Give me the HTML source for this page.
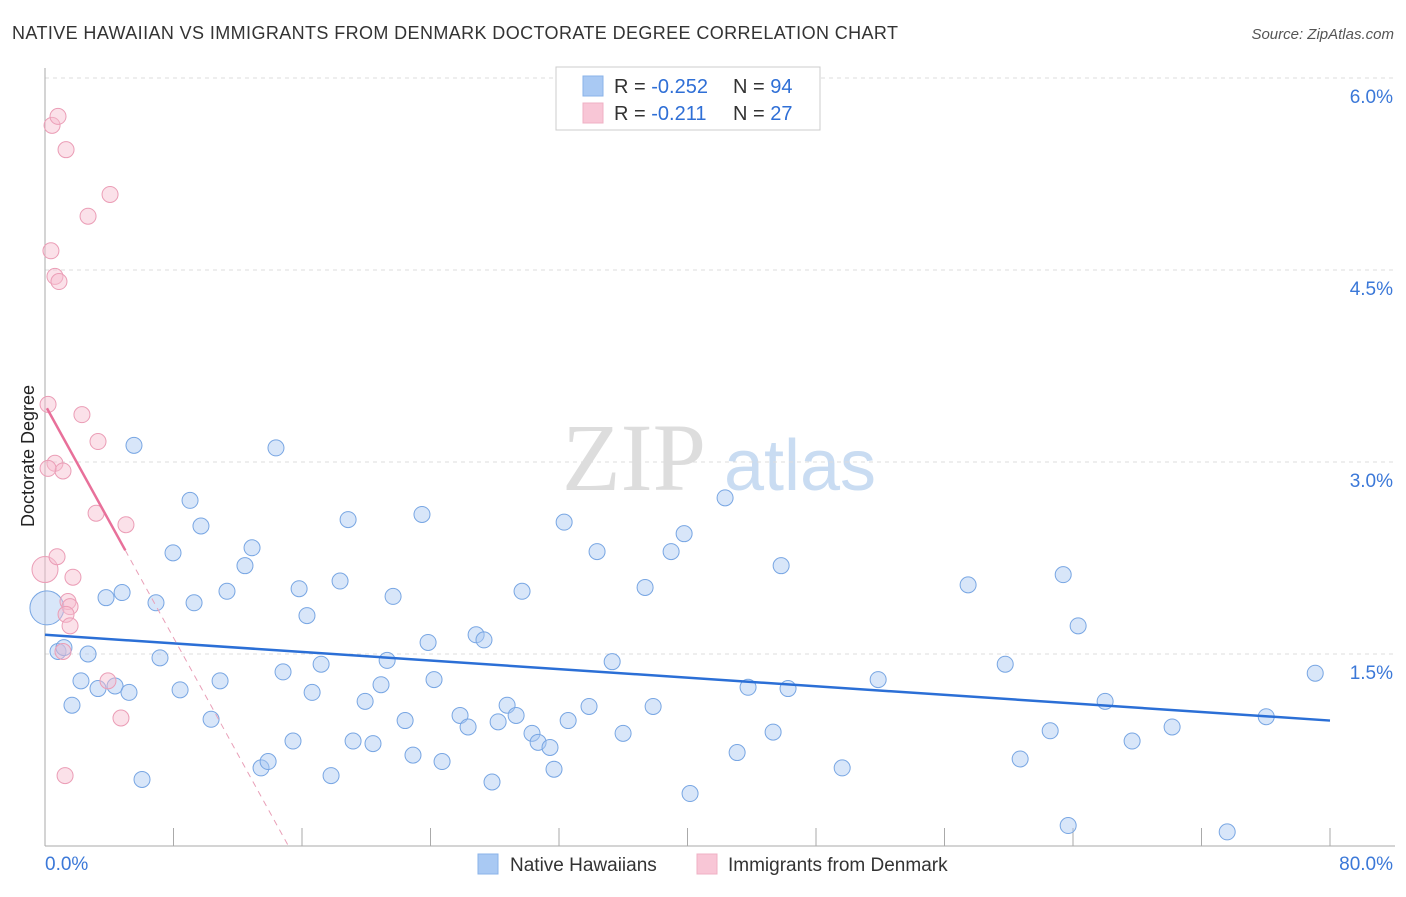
<!DOCTYPE html>
<html><head><meta charset="utf-8"><style>
body{margin:0;background:#fff;font-family:"Liberation Sans",sans-serif;}
</style></head><body>
<svg width="1406" height="892" xmlns="http://www.w3.org/2000/svg" id="svg">
<text x="12" y="39" font-size="18" fill="#333" textLength="886" lengthAdjust="spacing">NATIVE HAWAIIAN VS IMMIGRANTS FROM DENMARK DOCTORATE DEGREE CORRELATION CHART</text>
<text x="1394" y="39" font-size="15" fill="#555" text-anchor="end" font-style="italic">Source: ZipAtlas.com</text>
<text x="34" y="456" font-size="18" fill="#222" text-anchor="middle" transform="rotate(-90 34 456)">Doctorate Degree</text>
<g><text x="634" y="490" font-size="96" fill="#ddd" font-family="Liberation Serif,serif" text-anchor="middle">ZIP</text><text x="800" y="490" font-size="72" fill="#c9dcf2" text-anchor="middle">atlas</text></g>
<g id="grid"></g><g id="axes"></g><g id="marks"></g>
<g>
<rect x="556" y="67" width="264" height="63" fill="#fff" stroke="#ccc"/>
<rect x="583" y="76" width="20" height="20" fill="#a9c9f3" stroke="#8ab3e8"/>
<rect x="583" y="103" width="20" height="20" fill="#f8c6d6" stroke="#efb0c4"/>
<text x="614" y="93" font-size="20" fill="#333">R = <tspan fill="#2f6fd6">-0.252</tspan></text>
<text x="733" y="93" font-size="20" fill="#333">N = <tspan fill="#2f6fd6">94</tspan></text>
<text x="614" y="120" font-size="20" fill="#333">R =  <tspan fill="#2f6fd6"> -0.211</tspan></text>
<text x="733" y="120" font-size="20" fill="#333">N = <tspan fill="#2f6fd6">27</tspan></text>
</g>
<g>
<rect x="478" y="854" width="20" height="20" fill="#a9c9f3" stroke="#8ab3e8"/>
<text x="510" y="871" font-size="19" fill="#333">Native Hawaiians</text>
<rect x="697" y="854" width="20" height="20" fill="#f8c6d6" stroke="#efb0c4"/>
<text x="728" y="871" font-size="19" fill="#333">Immigrants from Denmark</text>
</g>
</svg>
<script>
const yTicks=[1.5,3.0,4.5,6.0];
const xTickLabels=["0.0%","80.0%"];
const blueX=[0.12,0.81,1.18,2.68,1.68,2.24,3.30,3.80,4.36,4.80,5.23,5.54,6.04,6.91,7.16,7.97,8.41,9.03,9.28,9.71,10.34,10.90,11.33,12.45,12.89,13.45,13.89,14.38,14.82,15.44,15.82,16.31,16.63,17.19,17.81,18.37,18.87,19.18,19.93,20.42,20.92,21.30,21.67,22.42,22.91,23.47,23.85,24.22,24.72,25.84,26.34,26.84,27.33,27.83,28.21,28.77,29.33,29.70,30.32,30.70,31.44,31.69,32.32,32.57,33.87,34.37,35.31,35.99,37.36,37.86,38.98,39.79,40.16,42.34,43.09,43.77,45.33,45.83,46.26,49.63,51.87,57.47,59.78,60.71,62.58,63.39,63.70,64.32,66.00,67.68,70.17,73.60,76.03,79.08];
const blueY=[1.86,1.52,1.55,1.50,1.10,1.29,1.23,1.94,1.25,1.98,1.20,3.13,0.52,1.90,1.47,2.29,1.22,2.70,1.90,2.50,0.99,1.29,1.99,2.19,2.33,0.61,0.66,3.11,1.36,0.82,2.01,1.80,1.20,1.42,0.55,2.07,2.55,0.82,1.13,0.80,1.26,1.45,1.95,0.98,0.71,2.59,1.59,1.30,0.66,1.02,0.93,1.65,1.61,0.50,0.97,1.10,1.02,1.99,0.88,0.81,0.77,0.60,2.53,0.98,1.09,2.30,1.44,0.88,2.02,1.09,2.30,2.44,0.41,2.72,0.73,1.24,0.89,2.19,1.23,0.61,1.30,2.04,1.42,0.68,0.90,2.12,0.16,1.72,1.13,0.82,0.93,0.11,1.01,1.35];
const pinkX=[0,0.19,0.44,0.81,1.31,4.05,2.68,0.37,0.62,0.87,2.30,3.30,0.62,1.12,0.19,3.18,5.04,0.75,1.74,1.43,1.56,1.31,1.56,1.12,3.92,4.73,1.25];
const pinkY=[2.16,3.45,5.63,5.70,5.44,5.09,4.92,4.65,4.45,4.41,3.37,3.16,2.99,2.93,2.95,2.60,2.51,2.26,2.10,1.91,1.87,1.81,1.72,1.52,1.29,1.00,0.55];
const blueTrend=[1.65,0.98]; // y at x=0 and x=80
const pinkTrend=[3.42,2.31]; // y at x=0.12 and x=5.0
const X=v=>45+v*1285/80, Y=v=>846-v*128;
const NS="http://www.w3.org/2000/svg";
function mk(tag,attrs,parent){const e=document.createElementNS(NS,tag);for(const k in attrs)e.setAttribute(k,attrs[k]);document.getElementById(parent).appendChild(e);return e;}
yTicks.forEach(t=>{
 const g=mk('line',{x1:45,x2:1395,y1:Y(t),y2:Y(t),stroke:'#ddd','stroke-dasharray':'4,4'},'grid');
 
 
 const l=mk('text',{x:1393,y:Y(t)+25,'font-size':19,fill:'#3b78d8','text-anchor':'end'},'grid');
 l.textContent=t.toFixed(1)+'%';
 
 
});
const ax=mk('line',{x1:45,x2:45,y1:68,y2:846,stroke:'#aaa'},'axes');


const bx=mk('line',{x1:45,x2:1395,y1:846,y2:846,stroke:'#aaa'},'axes');


for(let i=1;i<=10;i++){const t=mk('line',{x1:X(i*8),x2:X(i*8),y1:828,y2:846,stroke:'#aaa'},'axes');
 
 }
[[0,'start',45],[1,'end',1393]].forEach(([i,a,x])=>{const t=mk('text',{x:x,y:870,'font-size':19,fill:'#3b78d8','text-anchor':a},'axes');t.textContent=xTickLabels[i];
 
 });
blueX.forEach((x,i)=>{const c=mk('circle',{cx:X(x),cy:Y(blueY[i]),r:i==0?17:8,fill:'rgba(168,200,242,0.45)',stroke:'#78a6e3','stroke-width':1},'marks');
 
 });
pinkX.forEach((x,i)=>{const c=mk('circle',{cx:X(x),cy:Y(pinkY[i]),r:i==0?13:8,fill:'rgba(246,188,206,0.45)',stroke:'#eb9db6','stroke-width':1},'marks');
 
 });
const bt=mk('line',{x1:X(0),y1:Y(blueTrend[0]),x2:X(80),y2:Y(blueTrend[1]),stroke:'#2b6fd6','stroke-width':2.5},'marks');


const slope=(pinkTrend[1]-pinkTrend[0])/(5.0-0.12);
const xz=0.12-pinkTrend[0]/slope;
const pd=mk('line',{x1:X(5.0),y1:Y(pinkTrend[1]),x2:X(xz),y2:Y(0),stroke:'#e9a0b8','stroke-width':1,'stroke-dasharray':'6,5'},'marks');


const pt=mk('line',{x1:X(0.12),y1:Y(pinkTrend[0]),x2:X(5.0),y2:Y(pinkTrend[1]),stroke:'#e8709a','stroke-width':2.5},'marks');


</script>
</body></html>
